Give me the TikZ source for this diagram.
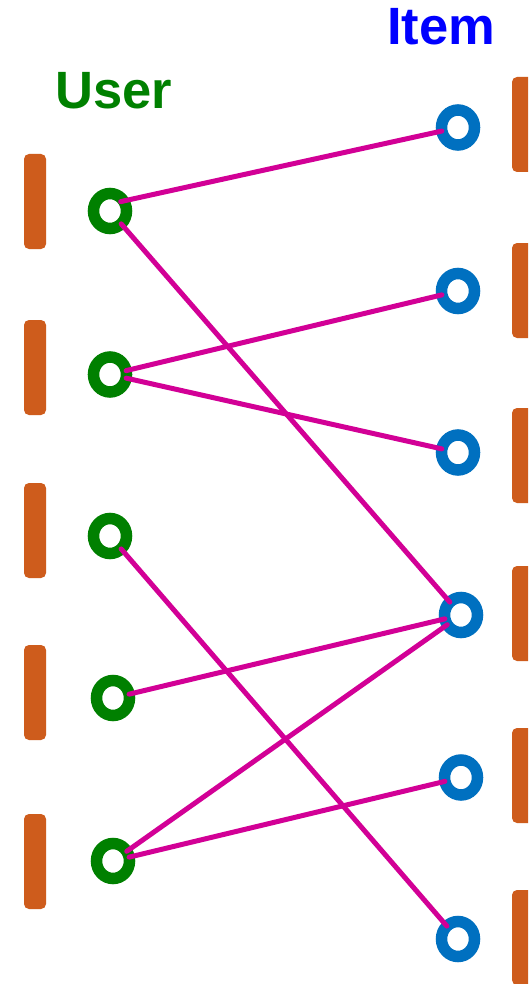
\documentclass[tikz,border=0pt]{standalone}
\usepackage{fontspec}
\setmainfont{Liberation Sans}
\usetikzlibrary{shapes.geometric}
\definecolor{ugreen}{RGB}{0,128,0}
\definecolor{iblue}{RGB}{0,112,192}
\definecolor{tblue}{RGB}{0,0,255}
\definecolor{borange}{RGB}{206,92,28}
\definecolor{lmag}{RGB}{210,0,150}
\begin{document}
\begin{tikzpicture}[x=1pt,y=-1pt,
  ring/.style={ellipse, draw, line width=11.5pt, minimum width=33pt, minimum height=35pt, inner sep=0pt, outer sep=0pt},
  user/.style={ring, draw=ugreen},
  item/.style={ring, draw=iblue},
  bar/.style={fill=borange, rounded corners=5pt},
  link/.style={draw=lmag, line width=5pt, line cap=round},
  title/.style={anchor=base west, inner sep=0pt, font=\fontsize{52.5}{60}\selectfont\bfseries}]
\useasboundingbox (0,0) rectangle (528,984);
\clip (0,0) rectangle (528,984);
\fill[white] (0,0) rectangle (528,984);
% titles
\node[title, text=tblue] (itemt) at (387,45) {Item};
\node[title, text=ugreen] (usert) at (55.5,109) {User};
% left bars
\foreach \y in {154,320,483,645,814} \fill[bar] (24,\y) rectangle (46,\y+95);
% right bars
\foreach \y in {77,243,408,566,728,890} \fill[bar] (512,\y) rectangle (536,\y+95);
% users
\node[user] (u1) at (110,211) {};
\node[user] (u2) at (110,374.5) {};
\node[user] (u3) at (110,536) {};
\node[user] (u4) at (113,698) {};
\node[user] (u5) at (113,861) {};
% items
\node[item] (i1) at (458,127.5) {};
\node[item] (i2) at (458,291) {};
\node[item] (i3) at (458,452.5) {};
\node[item] (i4) at (461,615) {};
\node[item] (i5) at (461,777.5) {};
\node[item] (i6) at (458,939) {};
% links
\draw[link] (u1.north east) ++(-1,3) -- (i1);
\draw[link] (u1) -- (i4);
\draw[link] (u2) -- (i2);
\draw[link] (u2) -- (i3);
\draw[link] (u3) -- (i6);
\draw[link] (u4) -- (i4);
\draw[link] (u5) -- (i4);
\draw[link] (u5) -- (i5);
\end{tikzpicture}
\end{document}
